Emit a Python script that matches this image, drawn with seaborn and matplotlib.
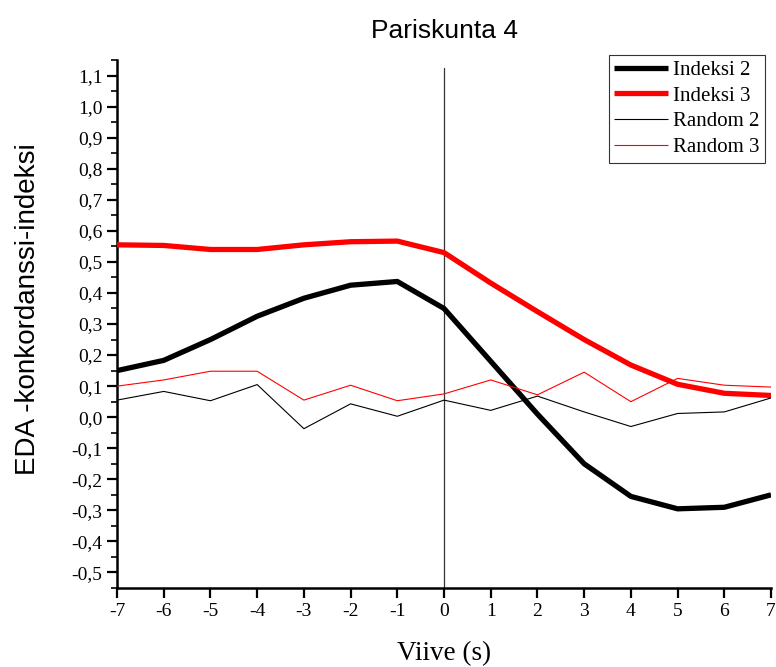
import matplotlib
matplotlib.use("Agg")
import matplotlib.pyplot as plt
import seaborn as sns
import pandas as pd
import numpy as np
from matplotlib.ticker import MultipleLocator, FuncFormatter

lags = [-7, -6, -5, -4, -3, -2, -1, 0, 1, 2, 3, 4, 5, 6, 7]
indeksi2 = [0.15, 0.183, 0.25, 0.325, 0.383, 0.425, 0.437, 0.35, 0.18, 0.01, -0.15, -0.255, -0.295, -0.29, -0.25]
indeksi3 = [0.555, 0.553, 0.54, 0.54, 0.555, 0.565, 0.567, 0.53, 0.432, 0.34, 0.25, 0.168, 0.106, 0.077, 0.07]
random2 = [0.055, 0.083, 0.053, 0.105, -0.037, 0.043, 0.003, 0.055, 0.022, 0.068, 0.017, -0.03, 0.012, 0.017, 0.062]
random3 = [0.1, 0.12, 0.148, 0.148, 0.055, 0.103, 0.053, 0.075, 0.12, 0.072, 0.145, 0.05, 0.125, 0.103, 0.097]
series_names = ["Indeksi 2", "Indeksi 3", "Random 2", "Random 3"]

sns.set_style("ticks")
plt.rcParams['font.family'] = ['Liberation Serif', 'DejaVu Serif']
plt.rcParams['text.color'] = 'black'
plt.rcParams['axes.labelcolor'] = 'black'

fig = plt.figure(figsize=(7.76, 6.67), dpi=100)
ax = fig.add_axes([0.1508, 0.1184, 0.8428, 0.7916])

styles = {
    "Indeksi 2": dict(color="black", linewidth=3.8),
    "Indeksi 3": dict(color="#ff0000", linewidth=3.8),
    "Random 2": dict(color="black", linewidth=0.8),
    "Random 3": dict(color="#ff0000", linewidth=0.8),
}
values = [indeksi2, indeksi3, random2, random3]
ax.axvline(0, ymin=0, ymax=(1.125 + 0.55) / 1.7, color="#333333", linewidth=0.9, zorder=1)
for name, vals in zip(series_names, values):
    df = pd.DataFrame({"lag": lags, "val": vals})
    sns.lineplot(data=df, x="lag", y="val", ax=ax, label=name, zorder=3,
                 solid_joinstyle="round", solid_capstyle="butt", **styles[name])

ax.set_xlim(-7, 7)
ax.set_ylim(-0.55, 1.15)
ax.xaxis.set_major_locator(MultipleLocator(1))
ax.yaxis.set_major_locator(MultipleLocator(0.1))
ax.yaxis.set_minor_locator(MultipleLocator(0.05))
ax.yaxis.set_major_formatter(FuncFormatter(lambda v, p: f"{v:.1f}".replace(".", ",").replace("-0,0", "0,0")))
ax.xaxis.set_major_formatter(FuncFormatter(lambda v, p: f"{int(round(v))}"))
ax.set_ylim(-0.55, 1.15)

for s in ["top", "right"]:
    ax.spines[s].set_visible(False)
for s in ["left", "bottom"]:
    ax.spines[s].set_linewidth(1.8)
    ax.spines[s].set_color("black")
ax.tick_params(axis="both", which="major", direction="out", length=7, width=1.6, labelsize=14, colors="black")
ax.tick_params(axis="x", which="major", pad=4)
ax.tick_params(axis="y", which="minor", direction="out", length=4, width=1.4)

ax.set_xlabel("Viive (s)", fontsize=19.5, family=['Liberation Serif'], labelpad=15, color="black")
ax.set_ylabel("EDA -konkordanssi-indeksi", fontsize=20, family=['Liberation Sans', 'DejaVu Sans'], color="black")
ax.yaxis.set_label_coords(-0.117, 0.528)
ax.set_title("Pariskunta 4", fontsize=19, family=['Liberation Sans', 'DejaVu Sans'], pad=16, color="black")

leg = ax.legend(loc="upper right", bbox_to_anchor=(0.991, 1.0095), fontsize=15, frameon=True, fancybox=False,
                handlelength=2.6, handletextpad=0.25, borderpad=0.25, labelspacing=0.3, borderaxespad=0)
leg.get_frame().set_edgecolor("black")
leg.get_frame().set_linewidth(0.8)
for t in leg.get_texts():
    t.set_color("black")

fig.savefig("out.png", dpi=100)
